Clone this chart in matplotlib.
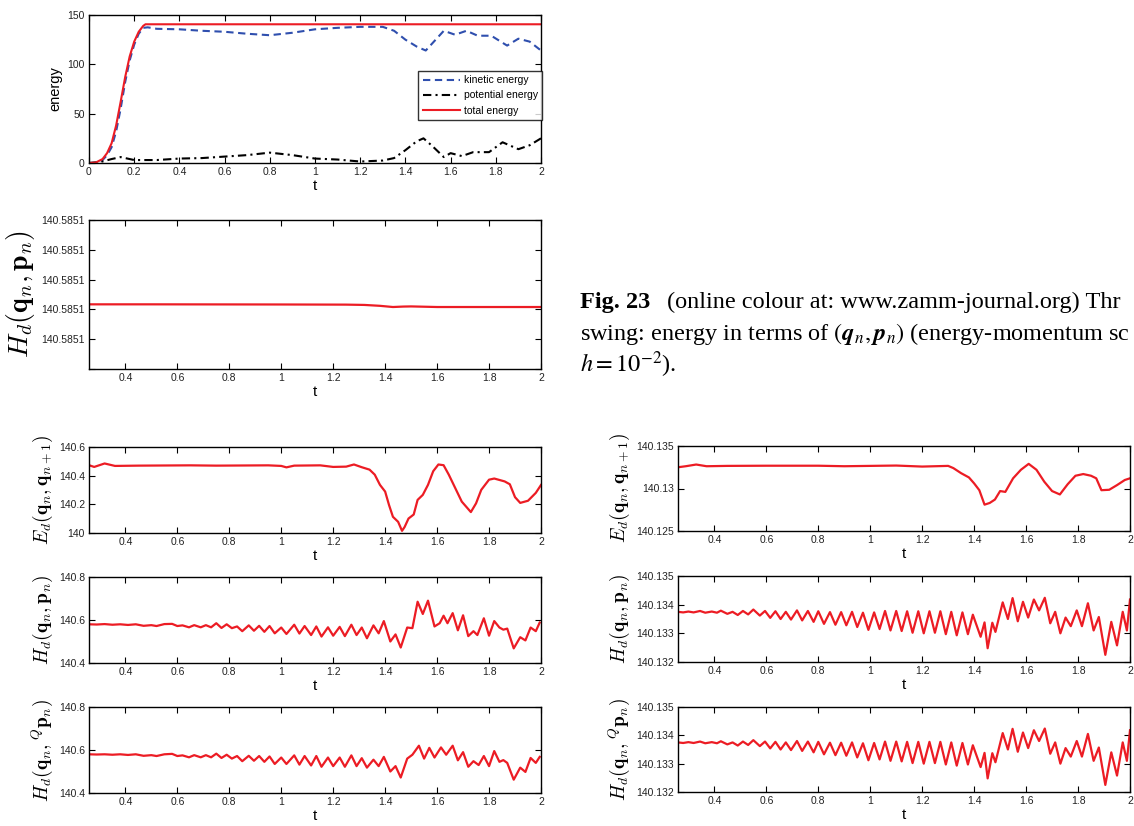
import matplotlib
matplotlib.use('Agg')
import matplotlib.pyplot as plt

plt.rcParams['font.family'] = ['Liberation Sans', 'DejaVu Sans']
plt.rcParams['mathtext.fontset'] = 'cm'

# ---- top panel: energies ----
t_total = [0, 0.03, 0.06, 0.08, 0.10, 0.12, 0.14, 0.16, 0.18, 0.20, 0.22, 0.24, 0.25, 2.0]
total_energy = [0, 0.5, 4, 10, 20, 38, 62, 87, 108, 123, 133, 139, 140.6, 140.6]

t_kin = [0, 0.03, 0.06, 0.08, 0.10, 0.12, 0.14, 0.16, 0.18, 0.20, 0.22, 0.24, 0.26, 0.3,
         0.4, 0.5, 0.6, 0.7, 0.8, 0.9, 1.0, 1.1, 1.2, 1.3, 1.35, 1.4, 1.45, 1.49, 1.53,
         1.57, 1.62, 1.67, 1.72, 1.78, 1.85, 1.9, 1.95, 2.0]
kinetic_energy = [0, 0.3, 3, 8, 16, 32, 55, 82, 104, 120, 131, 137, 137.5, 136,
                  135.5, 134, 133, 131, 129.5, 132, 135.5, 137, 138, 138, 134, 125, 118, 114, 124,
                  134, 130, 134, 129, 129, 119, 126, 123, 114]

t_pot = [0, 0.05, 0.1, 0.14, 0.2, 0.3, 0.4, 0.5, 0.6, 0.7, 0.8, 0.9, 1.0, 1.1, 1.2,
         1.3, 1.35, 1.4, 1.45, 1.48, 1.52, 1.57, 1.6, 1.65, 1.7, 1.77, 1.83, 1.9, 1.95, 2.0]
potential_energy = [0, 1, 4, 6, 3, 3, 4.5, 5, 6.5, 8, 10.5, 8, 4.5, 3.5, 1.5,
                    2.5, 5, 13, 22, 25, 17, 6, 10, 7, 11, 11, 21, 14, 18, 25]

# ---- second panel: H_d(q_n, p_n), energy-momentum scheme ----
t_hd_em = [0.26, 0.5, 1.0, 1.25, 1.32, 1.38, 1.43, 1.47, 1.5, 1.55, 1.6, 1.8, 2.0]
hd_em = [140.58510234, 140.58510234, 140.58510233, 140.58510232, 140.58510230,
         140.58510224, 140.58510216, 140.58510219, 140.58510220, 140.58510218,
         140.58510216, 140.58510216, 140.58510216]
hd_em_ticks = [140.585098, 140.5851, 140.585102, 140.585104, 140.585106, 140.585108]
hd_em_ticklabels = ['', '140.5851', '140.5851', '140.5851', '140.5851', '140.5851']

# ---- lower left column ----
t_ed_left = [0.26, 0.28, 0.32, 0.36, 0.45, 0.55, 0.65, 0.75, 0.85, 0.95, 1.0, 1.02, 1.05,
             1.15, 1.2, 1.25, 1.28, 1.31, 1.34, 1.36, 1.38, 1.40, 1.415, 1.43, 1.45, 1.465,
             1.475, 1.49, 1.51, 1.525, 1.545, 1.565, 1.585, 1.605, 1.625, 1.645, 1.67, 1.695,
             1.73, 1.75, 1.77, 1.80, 1.82, 1.86, 1.88, 1.90, 1.92, 1.95, 1.98, 2.0]
ed_left = [140.473, 140.461, 140.485, 140.468, 140.470, 140.471, 140.472, 140.470, 140.471,
           140.472, 140.468, 140.458, 140.470, 140.472, 140.461, 140.463, 140.478, 140.459,
           140.442, 140.407, 140.336, 140.289, 140.195, 140.113, 140.078, 140.015, 140.042,
           140.101, 140.129, 140.231, 140.266, 140.336, 140.431, 140.478, 140.473, 140.407,
           140.313, 140.219, 140.146, 140.207, 140.301, 140.372, 140.380, 140.360, 140.340,
           140.250, 140.210, 140.225, 140.280, 140.335]

t_hd_left = [0.26, 0.29, 0.32, 0.35, 0.38, 0.41, 0.44, 0.47, 0.50, 0.52, 0.55, 0.58, 0.60,
             0.62, 0.645, 0.665, 0.69, 0.71, 0.73, 0.75, 0.77, 0.79, 0.81, 0.83, 0.85, 0.875,
             0.895, 0.915, 0.935, 0.955, 0.975, 1.00, 1.02, 1.05, 1.07, 1.09, 1.115, 1.135,
             1.155, 1.18, 1.20, 1.225, 1.245, 1.27, 1.29, 1.31, 1.33, 1.355, 1.375, 1.395,
             1.42, 1.44, 1.46, 1.485, 1.505, 1.525, 1.545, 1.565, 1.59, 1.61, 1.625, 1.64,
             1.66, 1.68, 1.70, 1.72, 1.74, 1.755, 1.78, 1.80, 1.82, 1.84, 1.855, 1.87, 1.895,
             1.92, 1.94, 1.96, 1.98, 1.995]
hd_left = [140.580, 140.579, 140.581, 140.578, 140.580, 140.577, 140.580, 140.573, 140.576,
           140.572, 140.581, 140.582, 140.572, 140.575, 140.566, 140.576, 140.566, 140.576,
           140.566, 140.585, 140.563, 140.580, 140.562, 140.570, 140.548, 140.575, 140.550,
           140.573, 140.545, 140.572, 140.538, 140.565, 140.535, 140.578, 140.537, 140.572,
           140.530, 140.570, 140.523, 140.566, 140.527, 140.568, 140.525, 140.578, 140.530,
           140.565, 140.515, 140.575, 140.538, 140.595, 140.500, 140.533, 140.472, 140.565,
           140.562, 140.685, 140.628, 140.690, 140.570, 140.585, 140.620, 140.585, 140.632,
           140.552, 140.622, 140.525, 140.548, 140.530, 140.608, 140.527, 140.595, 140.565,
           140.555, 140.560, 140.468, 140.520, 140.505, 140.565, 140.548, 140.588]

t_hdq_left = [0.26, 0.29, 0.32, 0.35, 0.38, 0.41, 0.44, 0.47, 0.50, 0.52, 0.55, 0.58, 0.60,
              0.62, 0.645, 0.665, 0.69, 0.71, 0.73, 0.75, 0.77, 0.79, 0.81, 0.83, 0.85, 0.875,
              0.895, 0.915, 0.935, 0.955, 0.975, 1.00, 1.02, 1.05, 1.07, 1.09, 1.115, 1.135,
              1.155, 1.18, 1.20, 1.225, 1.245, 1.27, 1.29, 1.31, 1.33, 1.355, 1.375, 1.395,
              1.42, 1.44, 1.46, 1.485, 1.505, 1.53, 1.55, 1.57, 1.59, 1.615, 1.635, 1.66,
              1.68, 1.70, 1.72, 1.74, 1.76, 1.78, 1.80, 1.82, 1.84, 1.855, 1.87, 1.895, 1.92,
              1.94, 1.96, 1.98, 1.995]
hdq_left = [140.580, 140.579, 140.580, 140.578, 140.580, 140.577, 140.580, 140.573, 140.576,
            140.572, 140.580, 140.582, 140.572, 140.575, 140.566, 140.576, 140.566, 140.576,
            140.566, 140.583, 140.563, 140.578, 140.560, 140.572, 140.548, 140.573, 140.550,
            140.572, 140.545, 140.570, 140.535, 140.565, 140.535, 140.575, 140.532, 140.572,
            140.528, 140.572, 140.522, 140.565, 140.525, 140.565, 140.522, 140.575, 140.525,
            140.562, 140.518, 140.555, 140.525, 140.568, 140.500, 140.525, 140.472, 140.560,
            140.578, 140.620, 140.560, 140.610, 140.565, 140.612, 140.578, 140.620, 140.552,
            140.590, 140.522, 140.548, 140.530, 140.572, 140.525, 140.595, 140.545, 140.553,
            140.540, 140.462, 140.518, 140.498, 140.563, 140.540, 140.568]

# ---- lower right column ----
t_ed_right = [0.26, 0.29, 0.33, 0.37, 0.45, 0.6, 0.8, 0.9, 1.0, 1.1, 1.2, 1.3, 1.32, 1.35,
              1.38, 1.40, 1.42, 1.44, 1.46, 1.48, 1.50, 1.52, 1.55, 1.58, 1.61, 1.64, 1.67,
              1.70, 1.73, 1.76, 1.79, 1.82, 1.85, 1.87, 1.89, 1.92, 1.95, 1.98, 2.0]
ed_right = [140.13250, 140.13262, 140.13282, 140.13262, 140.13266, 140.13268, 140.13268,
            140.13262, 140.13266, 140.13270, 140.13258, 140.13266, 140.13240, 140.13180,
            140.13130, 140.13060, 140.12980, 140.12810, 140.12830, 140.12870, 140.12970,
            140.12960, 140.13120, 140.13220, 140.13290, 140.13220, 140.13080, 140.12970,
            140.12930, 140.13050, 140.13150, 140.13170, 140.13150, 140.13120, 140.12980,
            140.12985, 140.13040, 140.13100, 140.13120]

t_hd_right = [0.260, 0.280, 0.300, 0.320, 0.345, 0.365, 0.390, 0.410, 0.425, 0.450, 0.470,
              0.490, 0.510, 0.530, 0.550, 0.575, 0.595, 0.615, 0.635, 0.655, 0.675, 0.695,
              0.718, 0.738, 0.760, 0.782, 0.800, 0.822, 0.845, 0.866, 0.888, 0.908, 0.930,
              0.950, 0.972, 0.993, 1.015, 1.036, 1.057, 1.078, 1.100, 1.121, 1.142, 1.163,
              1.185, 1.206, 1.228, 1.249, 1.270, 1.291, 1.312, 1.333, 1.355, 1.376, 1.395,
              1.425, 1.440, 1.452, 1.470, 1.482, 1.510, 1.530, 1.548, 1.568, 1.588, 1.608,
              1.630, 1.650, 1.672, 1.693, 1.712, 1.732, 1.752, 1.772, 1.795, 1.815, 1.838,
              1.860, 1.880, 1.905, 1.928, 1.950, 1.972, 1.988, 2.000]
hd_right = [140.13375, 140.13373, 140.13376, 140.13373, 140.13378, 140.13372, 140.13376,
            140.13372, 140.13379, 140.13368, 140.13375, 140.13364, 140.13378, 140.13366,
            140.13383, 140.13362, 140.13378, 140.13354, 140.13377, 140.13350, 140.13375,
            140.13348, 140.13380, 140.13345, 140.13378, 140.13340, 140.13377, 140.13333,
            140.13374, 140.13330, 140.13374, 140.13328, 140.13375, 140.13322, 140.13372,
            140.13312, 140.13373, 140.13315, 140.13378, 140.13310, 140.13378, 140.13308,
            140.13377, 140.13302, 140.13377, 140.13300, 140.13377, 140.13302, 140.13377,
            140.13297, 140.13375, 140.13293, 140.13373, 140.13297, 140.13365, 140.13288,
            140.13338, 140.13248, 140.13337, 140.13305, 140.13408, 140.13350, 140.13423,
            140.13342, 140.13410, 140.13355, 140.13418, 140.13380, 140.13424, 140.13335,
            140.13375, 140.13300, 140.13355, 140.13325, 140.13380, 140.13325, 140.13405,
            140.13310, 140.13357, 140.13225, 140.13340, 140.13258, 140.13375, 140.13310,
            140.13418]

t_hdq_right = t_hd_right
hdq_right = [140.13375, 140.13373, 140.13376, 140.13373, 140.13378, 140.13372, 140.13376,
             140.13372, 140.13379, 140.13368, 140.13375, 140.13364, 140.13378, 140.13366,
             140.13383, 140.13362, 140.13378, 140.13354, 140.13377, 140.13350, 140.13375,
             140.13348, 140.13380, 140.13345, 140.13378, 140.13340, 140.13377, 140.13333,
             140.13374, 140.13330, 140.13374, 140.13328, 140.13375, 140.13322, 140.13372,
             140.13312, 140.13373, 140.13315, 140.13378, 140.13310, 140.13378, 140.13308,
             140.13377, 140.13302, 140.13377, 140.13300, 140.13377, 140.13302, 140.13377,
             140.13297, 140.13375, 140.13293, 140.13373, 140.13297, 140.13365, 140.13288,
             140.13338, 140.13248, 140.13337, 140.13305, 140.13408, 140.13350, 140.13423,
             140.13342, 140.13410, 140.13355, 140.13418, 140.13380, 140.13424, 140.13335,
             140.13375, 140.13300, 140.13355, 140.13325, 140.13380, 140.13325, 140.13405,
             140.13310, 140.13357, 140.13225, 140.13340, 140.13258, 140.13375, 140.13310,
             140.13418]

t_ticks = [0.4, 0.6, 0.8, 1.0, 1.2, 1.4, 1.6, 1.8, 2.0]
t_ticklabels = ['0.4', '0.6', '0.8', '1', '1.2', '1.4', '1.6', '1.8', '2']

RED = '#ec1c24'
W, H = 1134, 826
fig = plt.figure(figsize=(W / 100, H / 100), dpi=100)


def px_axes(x0, y0, x1, y1):
    # axes from pixel box (top-left origin)
    return fig.add_axes([x0 / W, 1 - y1 / H, (x1 - x0) / W, (y1 - y0) / H])


def style(ax):
    ax.tick_params(direction='in', top=True, right=True, length=4, width=0.8,
                   labelsize=7.5, labelcolor='#222222', pad=3)
    for s in ax.spines.values():
        s.set_linewidth(1.0)
    ax.set_xlabel('t', fontsize=11, labelpad=1)


# top energy panel
ax = px_axes(89, 15, 541, 163)
ax.plot(t_kin, kinetic_energy, color='#2f4fae', lw=1.5, dashes=(3.5, 2.2), label='kinetic energy')
ax.plot(t_pot, potential_energy, color='black', lw=1.5, dashes=(4, 2, 1, 2), label='potential energy')
ax.plot(t_total, total_energy, color=RED, lw=1.5, label='total energy')
ax.set_xlim(0, 2)
ax.set_ylim(0, 150)
ax.set_xticks([0, 0.2, 0.4, 0.6, 0.8, 1.0, 1.2, 1.4, 1.6, 1.8, 2.0])
ax.set_xticklabels(['0', '0.2', '0.4', '0.6', '0.8', '1', '1.2', '1.4', '1.6', '1.8', '2'])
ax.set_yticks([0, 50, 100, 150])
style(ax)
ax.set_ylabel('energy', fontsize=10.5, labelpad=4)
leg = ax.legend(loc='upper right', bbox_to_anchor=(1.003, 0.625), borderaxespad=0,
                fontsize=7.5, frameon=True, fancybox=False, handlelength=3.6,
                handletextpad=0.3, borderpad=0.45, labelspacing=0.5)
leg.get_frame().set_edgecolor('black')
leg.get_frame().set_linewidth(1.0)

# second panel
ax = px_axes(89, 220, 541, 369)
ax.plot(t_hd_em, hd_em, color=RED, lw=1.6)
ax.set_xlim(0.26, 2)
ax.set_ylim(hd_em_ticks[0], hd_em_ticks[-1])
ax.set_yticks(hd_em_ticks)
ax.set_yticklabels(hd_em_ticklabels)
ax.set_xticks(t_ticks)
ax.set_xticklabels(t_ticklabels)
style(ax)
ax.set_ylabel(r'$H_d(\mathbf{q}_n,\mathbf{p}_n)$', fontsize=20, labelpad=3)

# lower panels
lower = [
    ((89, 447, 541, 533), t_ed_left, ed_left, (140.0, 140.6), [140, 140.2, 140.4, 140.6],
     ['140', '140.2', '140.4', '140.6'], r'$E_d(\mathbf{q}_n,\mathbf{q}_{n+1})$'),
    ((89, 577, 541, 663), t_hd_left, hd_left, (140.4, 140.8), [140.4, 140.6, 140.8],
     ['140.4', '140.6', '140.8'], r'$H_d(\mathbf{q}_n,\mathbf{p}_n)$'),
    ((89, 707, 541, 793), t_hdq_left, hdq_left, (140.4, 140.8), [140.4, 140.6, 140.8],
     ['140.4', '140.6', '140.8'], r'$H_d(\mathbf{q}_n,{}^{Q}\mathbf{p}_n)$'),
    ((678, 446, 1130, 531), t_ed_right, ed_right, (140.125, 140.135), [140.125, 140.13, 140.135],
     ['140.125', '140.13', '140.135'], r'$E_d(\mathbf{q}_n,\mathbf{q}_{n+1})$'),
    ((678, 576, 1130, 662), t_hd_right, hd_right, (140.132, 140.135),
     [140.132, 140.133, 140.134, 140.135], ['140.132', '140.133', '140.134', '140.135'],
     r'$H_d(\mathbf{q}_n,\mathbf{p}_n)$'),
    ((678, 707, 1130, 792), t_hdq_right, hdq_right, (140.132, 140.135),
     [140.132, 140.133, 140.134, 140.135], ['140.132', '140.133', '140.134', '140.135'],
     r'$H_d(\mathbf{q}_n,{}^{Q}\mathbf{p}_n)$'),
]
for box, tx, vy, ylim, yt, ytl, ylab in lower:
    ax = px_axes(*box)
    ax.plot(tx, vy, color=RED, lw=1.6, solid_joinstyle='round')
    ax.set_xlim(0.26, 2)
    ax.set_ylim(*ylim)
    ax.set_yticks(yt)
    ax.set_yticklabels(ytl)
    ax.set_xticks(t_ticks)
    ax.set_xticklabels(t_ticklabels)
    style(ax)
    ax.set_ylabel(ylab, fontsize=14, labelpad=3)

# caption: only the part visible on the scanned page
serif = ['Liberation Serif', 'DejaVu Serif']
cap_fs = 17.5
fig.text(580 / W, 1 - 308 / H, 'Fig. 23', family=serif, fontsize=cap_fs, weight='bold',
         va='baseline', ha='left')
fig.text(667 / W, 1 - 308 / H, '(online colour at: www.zamm-journal.org) Thr',
         family=serif, fontsize=cap_fs, va='baseline', ha='left')
fig.text(580 / W, 1 - 340 / H,
         r'swing: energy in terms of $(\boldsymbol{q}_n,\boldsymbol{p}_n)$ (energy-momentum sc',
         family=serif, fontsize=cap_fs, va='baseline', ha='left', math_fontfamily='stix')
fig.text(580 / W, 1 - 372 / H, r'$h=10^{-2}$).', family=serif, fontsize=cap_fs,
         va='baseline', ha='left', math_fontfamily='stix')

fig.savefig('out.png', dpi=100)
